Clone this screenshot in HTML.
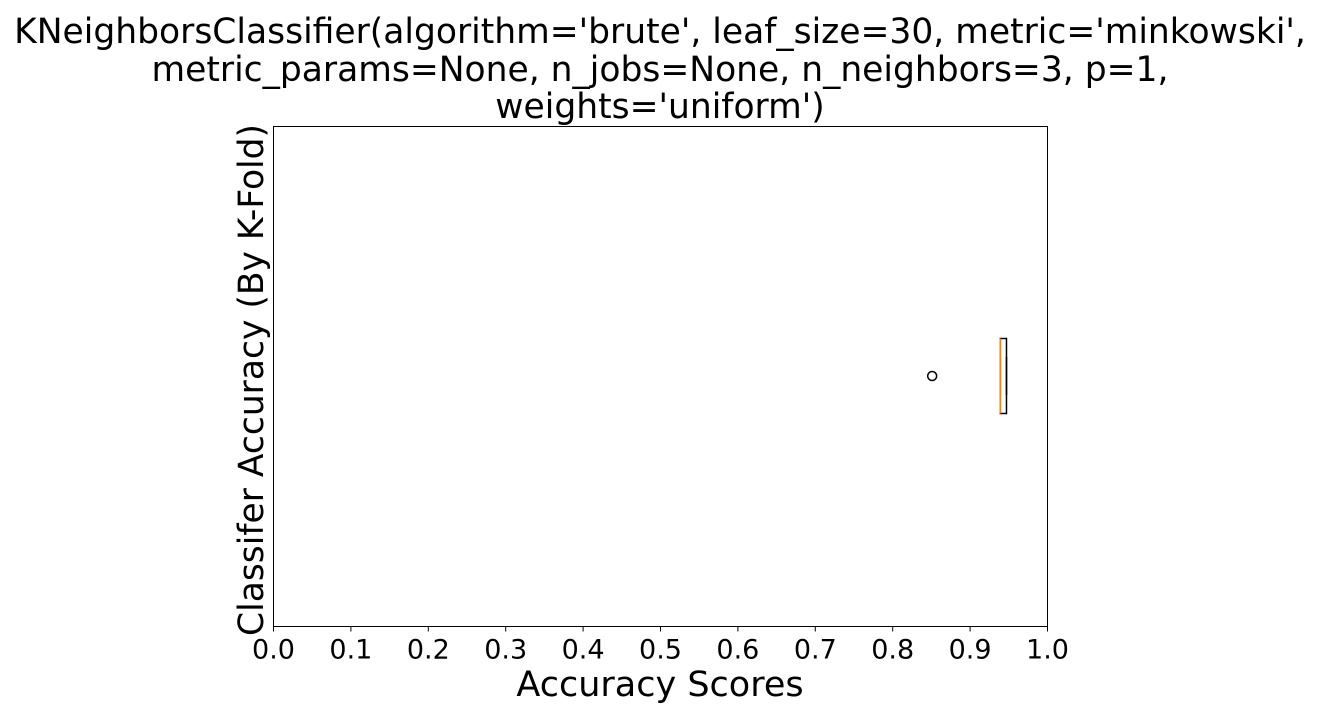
<!DOCTYPE html>
<html><head><meta charset="utf-8"><style>
body{margin:0;background:#fff;}
svg text{font-family:"DejaVu Sans","Liberation Sans",sans-serif;fill:#000;}
</style></head><body>
<svg width="1321" height="713" xmlns="http://www.w3.org/2000/svg">
<g font-size="34.5" text-anchor="middle">
<text x="660" y="43">KNeighborsClassifier(algorithm='brute', leaf_size=30, metric='minkowski',</text>
<text x="660" y="81">metric_params=None, n_jobs=None, n_neighbors=3, p=1,</text>
<text x="660" y="118">weights='uniform')</text>
</g>
<rect x="273.5" y="126.5" width="774" height="500" fill="none" stroke="#000" stroke-width="1"/>
<g id="xticks"></g>
<g id="marks"></g>
<text x="660" y="696" font-size="35" text-anchor="middle">Accuracy Scores</text>
<text transform="translate(263,380) rotate(-90)" font-size="34.5" text-anchor="middle">Classifer Accuracy (By K-Fold)</text>
</svg>
<script>
const tickValues=[0,0.1,0.2,0.3,0.4,0.5,0.6,0.7,0.8,0.9,1.0];
const tickLabels=["0.0","0.1","0.2","0.3","0.4","0.5","0.6","0.7","0.8","0.9","1.0"];
const boxStats=[0.939,0.939,0.939,0.947,0.947]; // whiskerLo,q1,median,q3,whiskerHi
const outliers=[0.851];
const NS="http://www.w3.org/2000/svg";
const x0=273.5,x1=1047.5,bottom=626.5;
const sx=v=>x0+(x1-x0)*v;
const cy=376,halfBox=37.5,halfCap=19;
function mk(t,a,p){const e=document.createElementNS(NS,t);for(const k in a)e.setAttribute(k,a[k]);p.appendChild(e);return e;}
const xt=document.getElementById('xticks');
tickValues.forEach((v,i)=>{
  const l=mk('line',{x1:sx(v),x2:sx(v),y1:bottom,y2:bottom+5,stroke:'#000'},xt);
  
  
  const t=mk('text',{x:sx(v),y:bottom+32,'font-size':27,'text-anchor':'middle'},xt);
  t.textContent=tickLabels[i];
  
  
});
const g=document.getElementById('marks');
const [wl,q1,med,q3,wh]=boxStats;
const box=mk('rect',{x:sx(q1),y:cy-halfBox,width:Math.max(sx(q3)-sx(q1),0.5),height:2*halfBox,fill:'none',stroke:'#000','stroke-width':1.5},g);


const w1=mk('line',{x1:sx(wl),x2:sx(q1),y1:cy,y2:cy,stroke:'#000','stroke-width':1.5},g);


const w2=mk('line',{x1:sx(q3),x2:sx(wh),y1:cy,y2:cy,stroke:'#000','stroke-width':1.5},g);


[wl,wh].forEach(v=>{
  const c=mk('line',{x1:sx(v),x2:sx(v),y1:cy-halfCap,y2:cy+halfCap,stroke:'#000','stroke-width':1.5},g);
  
  
});
const m=mk('line',{x1:sx(med),x2:sx(med),y1:cy-halfBox,y2:cy+halfBox,stroke:'#ff7f0e','stroke-width':1.5},g);


outliers.forEach(v=>{
  const o=mk('circle',{cx:sx(v),cy:cy,r:4.5,fill:'none',stroke:'#000','stroke-width':1.5},g);
  
  
});
</script>
</body></html>
